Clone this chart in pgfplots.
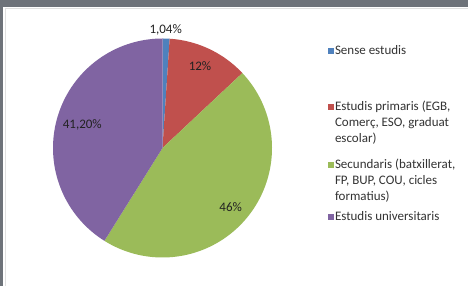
\documentclass[border=0pt]{standalone}
\usepackage{fontspec}
\setmainfont{Carlito}
\usepackage{pgfplots}
\usepackage{pgfplotstable}
\pgfplotsset{compat=1.18}
\definecolor{cBlue}{HTML}{4F81BD}
\definecolor{cRed}{HTML}{C0504D}
\definecolor{cGreen}{HTML}{9BBB59}
\definecolor{cPurple}{HTML}{8064A2}
\definecolor{frameGray}{HTML}{6E737A}
\definecolor{lblText}{HTML}{222222}
\definecolor{legText}{HTML}{333333}
\pgfplotstableread{
value
1.04
12
46
41.20
}\piedata
\pgfplotstablegetelem{0}{value}\of\piedata \let\vA\pgfplotsretval
\pgfplotstablegetelem{1}{value}\of\piedata \let\vB\pgfplotsretval
\pgfplotstablegetelem{2}{value}\of\piedata \let\vC\pgfplotsretval
\pgfplotstablegetelem{3}{value}\of\piedata \let\vD\pgfplotsretval
\pgfmathsetmacro\total{\vA+\vB+\vC+\vD}
\pgfmathsetmacro\unit{360/\total}
\pgfmathsetmacro\aA{0}
\pgfmathsetmacro\aB{\unit*\vA}
\pgfmathsetmacro\aC{\unit*(\vA+\vB)}
\pgfmathsetmacro\aD{\unit*(\vA+\vB+\vC)}
\def\cx{162.5}
\def\cy{138}
\def\R{109.5}
\begin{document}
\begin{tikzpicture}
\fill[white] (0,0) rectangle (468bp,286bp);
\fill[frameGray] (0,279bp) rectangle (468bp,286bp);
\fill[frameGray] (0,0) rectangle (3bp,286bp);
\draw[black!12, line width=0.6bp] (5bp,0) -- (5bp,277.5bp) -- (468bp,277.5bp);
\begin{axis}[
  at={(0,0)}, anchor=south west,
  scale only axis, width=468bp, height=286bp,
  xmin=0, xmax=468, ymin=0, ymax=286,
  hide axis, clip=false,
  font=\fontsize{13bp}{16bp}\selectfont,
  legend image code/.code={\fill[#1] (0bp,1.4bp) rectangle (5.5bp,6.9bp);},
  legend style={at={(axis cs:328,241)}, anchor=north west, draw=none, fill=none,
    inner sep=0pt, outer sep=0pt, row sep=0pt, column sep=1.5bp,
    nodes={inner sep=0pt, outer sep=0pt, text depth=, text height=, text=legText, anchor=base west},
    font=\fontsize{13bp}{16bp}\selectfont},
]
\addplot[fill=cBlue, draw=none, domain=\aA:\aB, samples=20, variable=\t]
  ({\cx+\R*sin(t)},{\cy+\R*cos(t)}) -- (axis cs:\cx,\cy) -- cycle;
\addlegendentry{\rule{0pt}{10bp}Sense estudis\rule[-46bp]{0pt}{46bp}}
\addplot[fill=cRed, draw=none, domain=\aB:\aC, samples=60, variable=\t]
  ({\cx+\R*sin(t)},{\cy+\R*cos(t)}) -- (axis cs:\cx,\cy) -- cycle;
\addlegendentry{\vtop{\hbox{\rule{0pt}{10bp}Estudis primaris (EGB,}\hbox{Comerç, ESO, graduat}\hbox{escolar)\rule[-16bp]{0pt}{16bp}}}}
\addplot[fill=cGreen, draw=none, domain=\aC:\aD, samples=120, variable=\t]
  ({\cx+\R*sin(t)},{\cy+\R*cos(t)}) -- (axis cs:\cx,\cy) -- cycle;
\addlegendentry{\vtop{\hbox{\rule{0pt}{10bp}Secundaris (batxillerat,}\hbox{FP, BUP, COU, cicles}\hbox{formatius)\rule[-10bp]{0pt}{10bp}}}}
\addplot[fill=cPurple, draw=none, domain=\aD:360, samples=120, variable=\t]
  ({\cx+\R*sin(t)},{\cy+\R*cos(t)}) -- (axis cs:\cx,\cy) -- cycle;
\addlegendentry{\rule{0pt}{10bp}Estudis universitaris}
\node[text=lblText] at (axis cs:165.7,256) {1,04\%};
\node[text=lblText] at (axis cs:200,220) {12\%};
\node[text=lblText] at (axis cs:82.3,161) {41,20\%};
\node[text=lblText] at (axis cs:230.7,79.3) {46\%};
\end{axis}
\pgfresetboundingbox
\useasboundingbox (0,0) rectangle (468bp,286bp);
\end{tikzpicture}
\end{document}
